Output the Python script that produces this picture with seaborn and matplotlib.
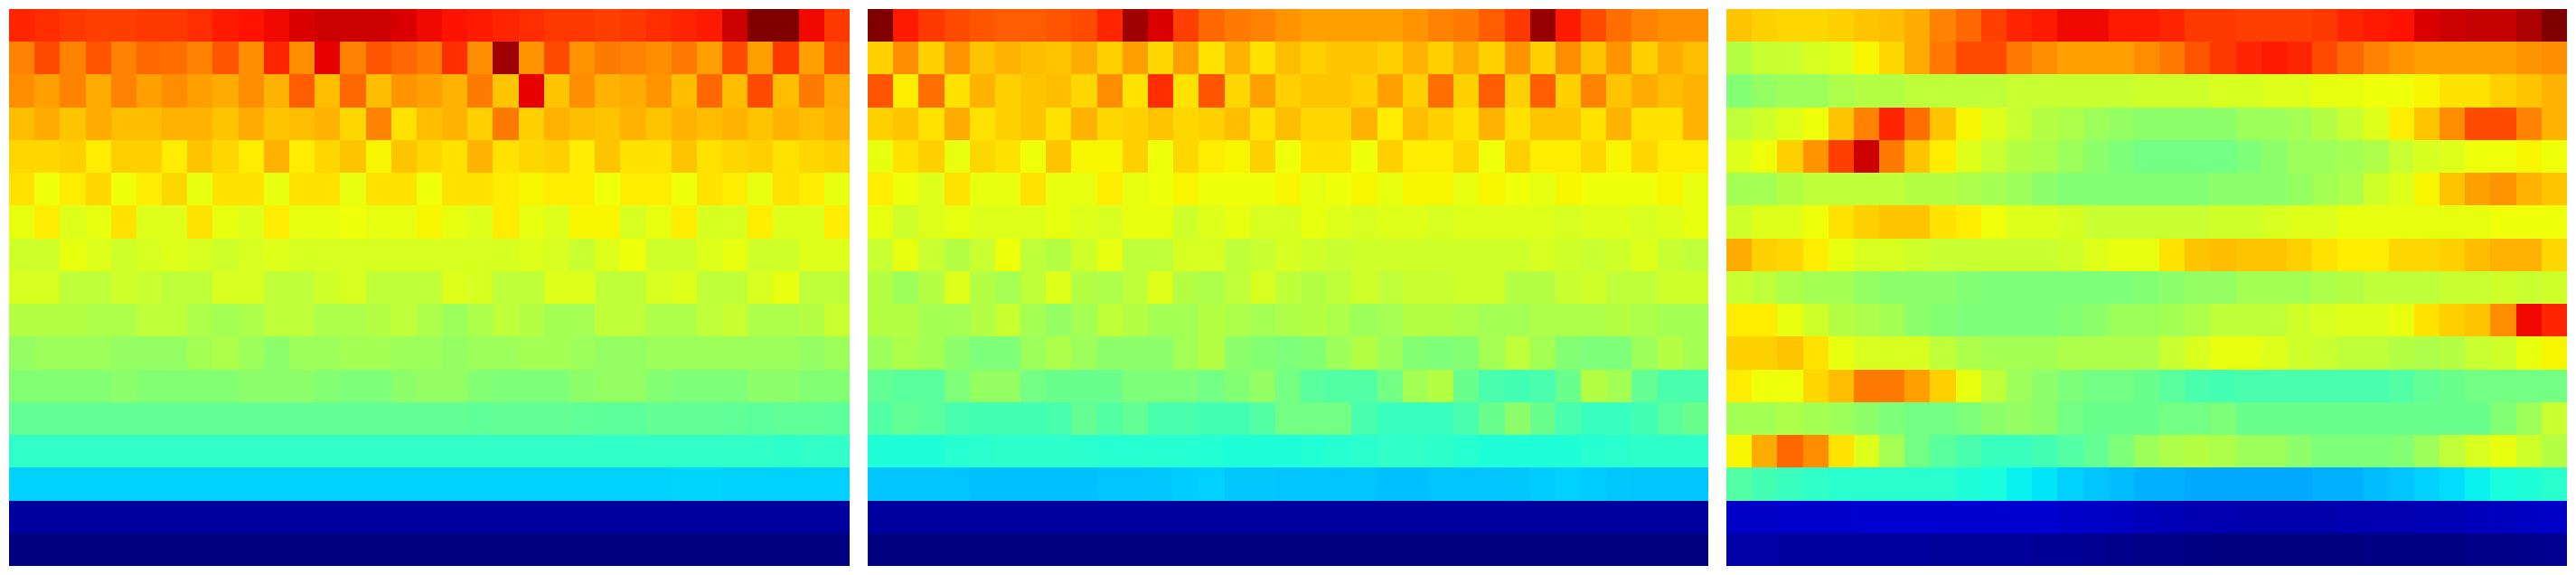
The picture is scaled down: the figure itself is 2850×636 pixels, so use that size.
import numpy as np
import matplotlib
matplotlib.use("Agg")
import matplotlib.pyplot as plt
import seaborn as sns

# Values on a 0-100 scale (17 rows x 33 columns)
panel_left = [
[87,86,85,84,84,85,85,86,88,89,90,92,93,93,93,92,90,89,88,87,86,85,85,84,85,86,87,88,93,100,100,90,85],
[77,83,77,82,77,80,79,77,82,76,87,76,91,77,82,80,78,86,76,97,75,83,75,78,77,76,78,74,83,74,85,74,82],
[76,74,77,73,77,74,76,74,73,76,72,81,71,80,71,75,74,72,78,70,91,70,76,72,73,75,71,80,71,83,71,78,73],
[71,73,70,73,71,71,72,72,70,73,70,71,72,68,77,67,71,72,69,78,69,72,71,70,72,70,72,71,72,70,72,71,72],
[68,68,69,66,69,69,66,70,68,66,72,66,68,70,65,70,68,67,72,67,68,69,66,70,67,67,70,67,68,69,67,68,69],
[67,64,66,68,64,66,68,63,67,67,63,67,67,63,67,67,64,67,67,66,65,66,66,64,66,66,64,67,66,63,67,66,63],
[63,66,62,63,67,62,62,67,63,62,66,63,63,64,63,63,65,63,62,66,63,62,65,65,61,63,66,61,61,66,62,62,66],
[60,60,63,62,60,61,62,61,60,61,62,61,61,61,61,61,61,61,61,61,62,61,59,62,64,60,60,62,63,60,60,62,62],
[61,61,58,58,60,59,58,58,61,61,58,58,60,61,58,58,58,62,61,58,58,62,62,58,58,61,62,58,58,61,63,58,58],
[57,57,57,56,56,58,58,56,55,56,58,58,56,56,57,58,56,54,56,58,57,55,55,58,58,56,56,58,59,56,56,57,59],
[53,54,54,54,53,53,53,55,56,54,52,54,54,55,55,54,54,53,54,54,55,55,54,53,53,54,54,54,54,54,54,53,54],
[51,51,51,51,52,51,51,51,51,52,52,52,51,50,50,52,53,53,51,50,50,50,52,53,53,51,50,50,50,52,52,51,51],
[46.9,46.9,46.9,46.9,46.9,46.9,46.9,46.9,46.9,46.9,46.9,46.9,46.9,46.9,46.9,46.9,46.9,46.9,46.5,46.9,46.9,46.9,46.5,46.3,46.3,46.9,46.9,46.9,46.5,46.2,46.5,46.5,46.2],
[41,41,41,41,41,41,41,41,41,41,41,41,41,41,41,41,41,41,41,41,41,41,41,41,41,41,41,41,41,41,40.6,41,41],
[33,33,33,33,33,33,33,33,33,33,33,33,33,33,33,33,33,33,33,33,33,33,33,33,33,33,33.3,33.3,33.2,33.2,33.2,33.2,33],
[3,3,3,3,3,3,3,3,3,3,3,3,3,3,3,3,3,3,3,3,3,3,3,3,3,3,3,3,3,3,3,3,3],
[0,0,0,0,0,0,0,0,0,0,0,0,0,0,0,0,0,0,0,0,0,0,0,0,0,0,0,0,0,0,0,0,0],
]

panel_middle = [
[100,88,85,83,82,81,81,82,83,87,97,92,84,80,78,77,75,74,74,74,74,75,77,78,81,85,98,88,83,79,77,76,76],
[69,76,69,75,70,72,71,70,73,69,74,68,74,67,72,67,71,69,70,70,69,72,69,73,69,75,69,76,70,75,69,73,71],
[82,66,79,67,72,69,70,71,68,76,67,86,67,82,68,74,69,70,70,69,74,69,79,69,81,69,81,69,77,70,73,71,72],
[69,70,67,73,67,69,70,67,72,68,69,70,68,69,71,67,71,68,68,72,66,71,69,67,72,67,70,70,67,72,67,67,72],
[63,67,69,63,68,67,64,70,65,65,69,64,68,66,65,69,64,67,67,64,69,66,66,68,64,69,66,66,68,65,68,66,66],
[66,64,62,67,63,63,67,63,63,66,63,64,65,64,64,64,65,63,64,65,63,65,65,63,65,64,63,65,64,64,64,65,63],
[63,60,62,63,62,62,62,63,62,61,63,63,60,62,63,61,61,63,62,61,62,62,61,62,62,62,62,61,62,62,61,62,63],
[59,63,59,57,59,64,58,57,60,63,58,58,61,61,58,59,61,60,59,60,60,60,60,60,60,60,61,60,59,60,62,59,58],
[57,54,57,62,57,55,58,62,57,56,58,62,57,56,58,61,58,57,58,60,58,59,59,60,60,57,57,59,60,58,58,60,60],
[57,57,55,55,57,59,55,53,55,58,57,55,55,57,56,55,56,57,56,54,55,57,57,56,55,55,56,56,56,57,56,55,55],
[54,56,55,52,50,50,54,56,54,52,52,52,55,57,52,51,50,51,54,57,54,51,50,51,55,58,55,51,50,50,54,57,55],
[47,46,46,50,53,53,49,48,48,48,50,50,50,49,51,53,49,46,45,45,49,55,57,48,44,43,44,48,57,55,47,44,44],
[45,47,46,44,43,43,43,44,47,45,47,44,44,43,43,45,49,49,49,44,42,42,42,44,48,52,48,44,42,42,43,46,48],
[39,39,39,39.5,40,40.5,40.5,40.5,40,39.8,39.8,39.8,39.5,39.2,39,39,39,39.2,39.5,40.2,41,41,40.4,39.8,39,39,39,39,39.5,40,40.4,40.4,40.4],
[32,32,31.8,31.8,31.5,31.3,31.3,31.3,31.5,31.8,32,32.2,32.7,32.9,32.4,32.2,32,32,32,31.8,31.4,31.4,31.8,32,32,32.4,32.8,32.9,32.8,32.3,32,32,32],
[3,3,3,3,3,3,3,3,3,3,3,3,3,3,3,3,3,3,3,3,3,3,3,3,3,3,3,3,3,3,3,3,3],
[0,0,0,0,0,0,0,0,0,0,0,0,0,0,0,0,0,0,0,0,0,0,0,0,0,0,0,0,0,0,0,0,0],
]

panel_right = [
[70,69,68,68,69,70,71,73,77,80,84,87,88,90,90,88,88,87,85,85,84,84,84,85,87,88,89,92,93,94,94,96,100],
[57,59,59,61,62,65,68,73,78,83,83,78,76,74,74,74,76,78,82,85,87,88,87,83,80,77,75,74,74,74,74,75,76],
[51,53,54,54,56,57,57,58,58,58,58,59,59,59,59,59,60,60,60,61,61,62,62,63,63,64,64,65,67,67,69,70,72],
[58,60,62,64,70,77,87,79,70,65,62,59,57,56,54,53,52,52,52,52,54,54,55,57,59,62,66,70,76,83,83,77,72],
[62,64,69,75,84,93,78,70,66,62,59,57,56,54,52,50,49,49,49,49,50,52,54,54,55,56,59,61,62,64,64,65,64],
[55,55,57,58,58,58,58,57,57,56,55,54,52,51,51,51,51,51,51,52,52,52,53,55,56,60,62,65,70,74,75,72,70],
[60,62,62,64,67,69,70,70,67,66,64,62,62,61,59,59,59,59,59,60,60,61,62,62,63,63,63,63,63,63,64,64,64],
[73,69,68,66,63,61,61,60,59,59,59,59,59,60,62,63,63,67,70,71,70,70,69,67,66,66,68,68,69,71,72,72,68],
[59,58,56,55,55,53,52,52,52,51,50,50,50,50,50,50,51,52,53,53,55,55,55,56,57,58,58,58,59,59,60,59,60],
[66,66,63,60,57,56,55,52,51,50,50,50,50,51,52,54,54,55,56,58,58,58,60,61,62,62,63,67,69,70,76,90,87],
[69,69,70,67,63,61,61,61,58,56,55,55,55,56,56,56,56,59,61,63,63,62,60,59,58,58,57,56,57,59,60,63,65],
[66,64,64,68,71,78,78,74,69,63,58,54,52,50,49,49,48,46,44,43,44,44,44,44,44,44,45,47,48,49,49,49,49],
[55,55,56,55,54,52,50,49,49,50,52,53,52,49,48,48,48,49,49,50,48,48,48,48,48,48,48,48,48,48,51,54,59],
[65,73,80,76,67,62,55,49,46,44,42,42,43,45,47,50,54,56,57,56,54,54,52,50,50,50,51,54,58,61,63,60,57],
[45,43,42,41,40,40,40,40,40,39,38,36,35,33,32,31,30,30,29,29,29,29,29,30,30,31,32,33,34,36,38,39,40],
[6.5,6.6,6.8,7,7,7.2,7.2,7.3,7.4,7.4,7.4,7.4,7.2,7,6.6,6,5.4,5,4.6,4.4,4.2,4.2,4.2,4.2,4.3,4.4,4.6,4.8,5,5.4,5.8,6.2,6.6],
[3.2,3.2,3.1,3,3,3,2.9,2.8,2.7,2.6,2.5,2.4,2.2,2,1.7,1.4,1.1,.8,.5,.3,.1,0,0,0,.2,.4,.5,.6,.7,.9,1,1.2,1.6],
]

panels = [panel_left, panel_middle, panel_right]

W, H = 2850, 636
fig = plt.figure(figsize=(W / 100, H / 100), dpi=100, facecolor="white")
lefts = [10, 960, 1910]
for left, values in zip(lefts, panels):
    ax = fig.add_axes([left / W, 1 - 626 / H, 930 / W, 616 / H])
    sns.heatmap(np.array(values) / 100, cmap="jet", vmin=0, vmax=1, cbar=False,
                xticklabels=False, yticklabels=False, linewidths=0, ax=ax)
    ax.tick_params(length=0)
fig.savefig("out.png", dpi=100, facecolor="white")
